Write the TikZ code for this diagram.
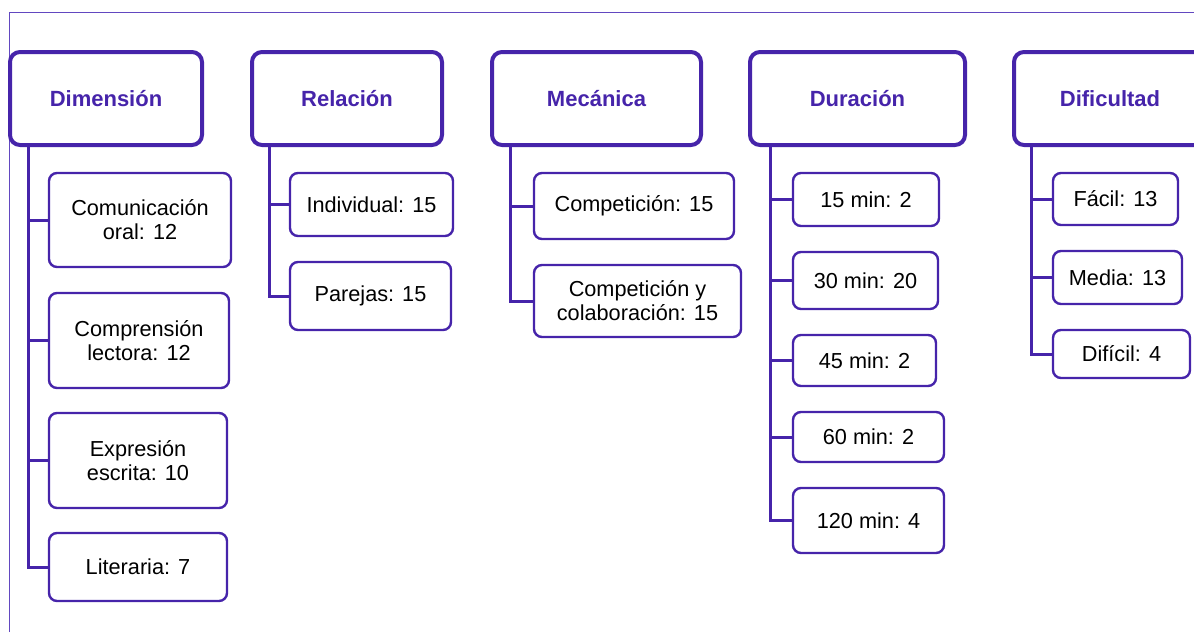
\documentclass[tikz,border=0pt]{standalone}
\usepackage{fontspec}
\setmainfont{Liberation Sans}
\definecolor{violet}{RGB}{70,36,170}
\definecolor{framec}{RGB}{98,72,192}
\tikzset{
  hdr/.style={draw=violet, line width=4pt, rounded corners=10pt, fill=white,
    inner sep=0pt, font=\fontsize{22}{24}\selectfont\bfseries, text=violet},
  leaf/.style={draw=violet, line width=2.4pt, rounded corners=8pt, fill=white,
    inner sep=0pt, align=center, font=\fontsize{21.7}{24}\selectfont, text=black},
  conn/.style={draw=violet, line width=3pt},
}
\begin{document}
\begin{tikzpicture}[x=1pt, y=-1pt]
\useasboundingbox (0,0) rectangle (1194,632);
\clip (0,0) rectangle (1194,632);

% outer frame (only top and left edges fall inside the page)
\draw[framec, line width=1pt] (9.5,632) -- (9.5,12) -- (1194,12);

% category headers
\node[hdr, minimum width=192pt, minimum height=93pt] (dim) at (106,98.5) {Dimensión};
\node[hdr, minimum width=190pt, minimum height=93pt] (rel) at (347,98.5) {Relación};
\node[hdr, minimum width=209pt, minimum height=93pt] (mec) at (596.5,98.5) {Mecánica};
\node[hdr, minimum width=215pt, minimum height=93pt] (dur) at (857.5,98.5) {Duración};
\node[hdr, minimum width=192pt, minimum height=93pt] (dif) at (1110,98.5) {Dificultad};

% Dimensión
\node[leaf, minimum width=182pt, minimum height=94pt] (c11) at (140,220) {Comunicación\\oral: 12};
\node[leaf, minimum width=180pt, minimum height=95pt] (c12) at (139,340.5) {Comprensión\\lectora: 12};
\node[leaf, minimum width=178pt, minimum height=95pt] (c13) at (138,460.5) {Expresión\\escrita: 10};
\node[leaf, minimum width=178pt, minimum height=68pt] (c14) at (138,567) {Literaria: 7};

% Relación
\node[leaf, minimum width=163pt, minimum height=63pt] (c21) at (371.5,204.5) {Individual: 15};
\node[leaf, minimum width=161pt, minimum height=68pt] (c22) at (370.5,296) {Parejas: 15};

% Mecánica
\node[leaf, minimum width=200pt, minimum height=66pt] (c31) at (634,206) {Competición: 15};
\node[leaf, minimum width=207pt, minimum height=72pt] (c32) at (637.5,301) {Competición y\\colaboración: 15};

% Duración
\node[leaf, minimum width=146pt, minimum height=53pt] (c41) at (866,199.5) {15 min: 2};
\node[leaf, minimum width=145pt, minimum height=57pt] (c42) at (865.5,280.5) {30 min: 20};
\node[leaf, minimum width=143pt, minimum height=51pt] (c43) at (864.5,360.5) {45 min: 2};
\node[leaf, minimum width=151pt, minimum height=50pt] (c44) at (868.5,437) {60 min: 2};
\node[leaf, minimum width=151pt, minimum height=65pt] (c45) at (868.5,520.5) {120 min: 4};

% Dificultad
\node[leaf, minimum width=125pt, minimum height=52pt] (c51) at (1115.5,199) {Fácil: 13};
\node[leaf, minimum width=129pt, minimum height=53pt] (c52) at (1117.5,277.5) {Media: 13};
\node[leaf, minimum width=137pt, minimum height=48pt] (c53) at (1121.5,354) {Difícil: 4};

% trunk anchors below each header
\coordinate (t1) at ([xshift=20pt]dim.south west);
\coordinate (t2) at ([xshift=19pt]rel.south west);
\coordinate (t3) at ([xshift=20pt]mec.south west);
\coordinate (t4) at ([xshift=22pt]dur.south west);
\coordinate (t5) at ([xshift=19pt]dif.south west);

% connectors: a trunk down from each header, one branch per item
\draw[conn] (t1) |- (c14.west);
\foreach \c in {c11,c12,c13} \draw[conn] (t1 |- \c.west) -- (\c.west);
\draw[conn] (t2) |- (c22.west);
\draw[conn] (t2 |- c21.west) -- (c21.west);
\draw[conn] (t3) |- (c32.west);
\draw[conn] (t3 |- c31.west) -- (c31.west);
\draw[conn] (t4) |- (c45.west);
\foreach \c in {c41,c42,c43,c44} \draw[conn] (t4 |- \c.west) -- (\c.west);
\draw[conn] (t5) |- (c53.west);
\foreach \c in {c51,c52} \draw[conn] (t5 |- \c.west) -- (\c.west);
\end{tikzpicture}
\end{document}
